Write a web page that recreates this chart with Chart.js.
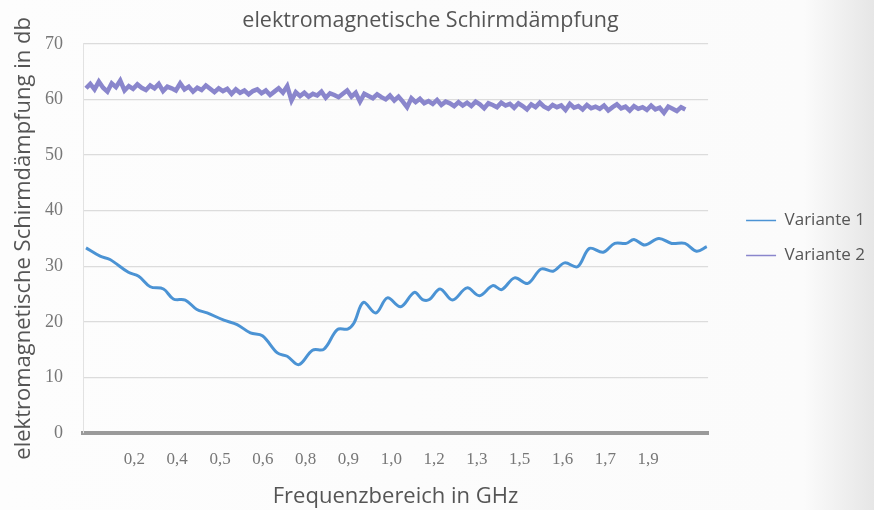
<!DOCTYPE html>
<html lang="de">
<head>
    <meta charset="UTF-8">
    <title>elektromagnetische Schirmdämpfung</title>
    <script src="https://cdn.jsdelivr.net/npm/chart.js"></script>
    <style>
        html, body {
            margin: 0;
            padding: 0;
        }
        body {
            width: 874px;
            height: 510px;
            background: linear-gradient(to right, #fdfdfd 0%, #fbfbfb 92%, #e6e6e6 100%);
        }
        .chart-container {
            width: 874px;
            height: 510px;
            position: relative;
        }
    </style>
</head>
<body>
    <div class="chart-container">
        <canvas id="schirmChart"></canvas>
    </div>

    <script>
        // tick labels on the x axis (category positions in sample units)
        const xTickPos = [12, 22, 32, 42, 52, 62, 72, 82, 92, 102, 112, 122, 132];
        const xTickLabels = ['0,2', '0,4', '0,5', '0,6', '0,8', '0,9', '1,0', '1,2', '1,3', '1,5', '1,6', '1,7', '1,9'];

        // Variante 1 (sample position / dB)
        const v1Pos = [0.7, 4.0, 6.3, 10.6, 13.0, 15.7, 18.8, 21.1, 23.9, 26.6, 29.0, 32.9, 36.0, 39.1, 41.9,
            45.4, 47.7, 50.4, 53.6, 56.3, 59.4, 61.8, 63.3, 65.5, 68.4, 71.1, 74.2, 77.4, 79.3, 80.9,
            83.4, 86.3, 89.7, 92.6, 95.7, 97.8, 100.8, 103.9, 107.0, 109.8, 112.5, 115.5, 118.3, 121.5,
            124.2, 126.9, 128.7, 131.2, 134.5, 137.5, 140.6, 143.3, 145.7];
        const v1Values = [33.3, 31.8, 31.2, 28.9, 28.2, 26.3, 25.9, 24.1, 23.9, 22.2, 21.6, 20.3, 19.5, 18.0, 17.5,
            14.4, 13.8, 12.3, 14.9, 15.1, 18.6, 18.7, 19.8, 23.5, 21.6, 24.3, 22.7, 25.3, 24.0, 24.0,
            25.9, 23.9, 26.1, 24.7, 26.5, 25.8, 27.9, 26.9, 29.5, 29.1, 30.6, 29.9, 33.2, 32.5,
            34.1, 34.1, 34.8, 33.8, 35.0, 34.1, 34.1, 32.7, 33.5];

        // Variante 2 - one value per sample, starting at position 0.7
        const v2Start = 0.7;
        const v2Values = [
            62.0, 62.8, 61.8, 63.2, 62.1, 61.4, 62.9, 62.2, 63.4, 61.6,
            62.4, 61.9, 62.7, 62.1, 61.7, 62.5, 62.0, 62.8, 61.5, 62.3,
            62.0, 61.6, 62.9, 61.8, 62.3, 61.4, 62.1, 61.7, 62.5, 61.9,
            61.3, 62.0, 61.5, 61.9, 61.0, 61.8, 61.2, 61.6, 60.9, 61.5,
            61.8, 61.1, 61.6, 60.8, 61.4, 62.0, 61.2, 62.4, 59.8, 61.3,
            60.6, 61.2, 60.5, 61.0, 60.7, 61.4, 60.3, 61.1, 60.8, 60.4,
            61.0, 61.6, 60.5, 61.2, 59.6, 61.0, 60.6, 60.2, 60.9, 60.4,
            60.0, 60.7, 59.8, 60.5, 59.6, 58.6, 60.2, 59.5, 60.1, 59.3,
            59.7, 59.2, 59.9, 59.0, 59.6, 59.3, 58.8, 59.5, 58.9, 59.4,
            58.8, 59.6, 59.1, 58.4, 59.3, 59.0, 58.6, 59.4, 58.9, 59.2,
            58.5, 59.3, 58.8, 58.2, 59.1, 58.6, 59.4, 58.7, 58.3, 59.0,
            58.6, 58.9, 58.1, 59.2, 58.5, 58.8, 58.2, 59.0, 58.4, 58.7,
            58.3, 58.9, 58.0, 58.6, 59.1, 58.4, 58.7, 58.0, 58.8, 58.3,
            58.6, 58.1, 58.9, 58.2, 58.5, 57.6, 58.7, 58.3, 57.9, 58.6,
            58.2
        ];

        const v1Data = v1Pos.map((p, i) => ({ x: p, y: v1Values[i] }));
        const v2Data = v2Values.map((v, i) => ({ x: v2Start + i, y: v }));

        const sansFont = '"Open Sans", "Noto Sans", sans-serif';
        const serifFont = '"Liberation Serif", "DejaVu Serif", serif';

        // nudge the legend a bit right/up, like in the original sheet
        const legendOffset = {
            id: 'legendOffset',
            afterLayout(chart) {
                const legend = chart.legend;
                legend.left += 20;
                legend.right += 20;
                legend.top -= 17;
                legend.bottom -= 17;
            }
        };

        const ctx = document.getElementById('schirmChart').getContext('2d');
        const schirmChart = new Chart(ctx, {
            type: 'line',
            data: {
                datasets: [{
                    label: 'Variante 1',
                    data: v1Data,
                    borderColor: '#4b93d4',
                    borderWidth: 3,
                    pointRadius: 0,
                    tension: 0.35,
                    fill: false
                }, {
                    label: 'Variante 2',
                    data: v2Data,
                    borderColor: '#8a86cc',
                    borderWidth: 4.5,
                    pointRadius: 0,
                    tension: 0,
                    fill: false
                }]
            },
            plugins: [legendOffset],
            options: {
                responsive: true,
                maintainAspectRatio: false,
                animation: false,
                layout: {
                    padding: { left: 6, right: 19, top: 0, bottom: 0 }
                },
                plugins: {
                    title: {
                        display: true,
                        text: 'elektromagnetische Schirmdämpfung',
                        color: '#555',
                        font: { family: sansFont, size: 21.5, weight: 'normal' },
                        padding: { top: 8, bottom: 10 }
                    },
                    legend: {
                        position: 'right',
                        labels: {
                            color: '#555',
                            font: { family: sansFont, size: 17 },
                            usePointStyle: true,
                            pointStyle: 'line',
                            pointStyleWidth: 30,
                            padding: 18,
                            generateLabels: chart =>
                                Chart.defaults.plugins.legend.labels.generateLabels(chart)
                                    .map(l => ({ ...l, lineWidth: 1.5 }))
                        }
                    },
                    tooltip: { enabled: false }
                },
                scales: {
                    x: {
                        type: 'linear',
                        min: 0,
                        max: 146,
                        afterBuildTicks: scale => {
                            scale.ticks = xTickPos.map(v => ({ value: v }));
                        },
                        afterFit: scale => {
                            scale.height = 77;
                        },
                        ticks: {
                            color: '#777',
                            font: { family: serifFont, size: 17 },
                            padding: 8,
                            maxRotation: 0,
                            autoSkip: false,
                            callback: value => xTickLabels[xTickPos.indexOf(value)]
                        },
                        grid: { display: false },
                        border: { color: '#9a9a9a', width: 4 },
                        title: {
                            display: true,
                            text: 'Frequenzbereich in GHz',
                            color: '#555',
                            font: { family: sansFont, size: 22 },
                            padding: { top: 4, bottom: 0 }
                        }
                    },
                    y: {
                        min: 0,
                        max: 70,
                        afterFit: scale => {
                            scale.width = 77;
                        },
                        ticks: {
                            stepSize: 10,
                            color: '#777',
                            font: { family: serifFont, size: 18 },
                            padding: 20
                        },
                        grid: { color: '#dcdcdc', lineWidth: 1.2, drawTicks: false },
                        border: { color: '#e2e2e2', width: 1 },
                        title: {
                            display: true,
                            text: 'elektromagnetische Schirmdämpfung in db',
                            color: '#555',
                            font: { family: sansFont, size: 22 },
                            padding: { top: 5, bottom: 0 }
                        }
                    }
                }
            }
        });
    </script>
</body>
</html>
